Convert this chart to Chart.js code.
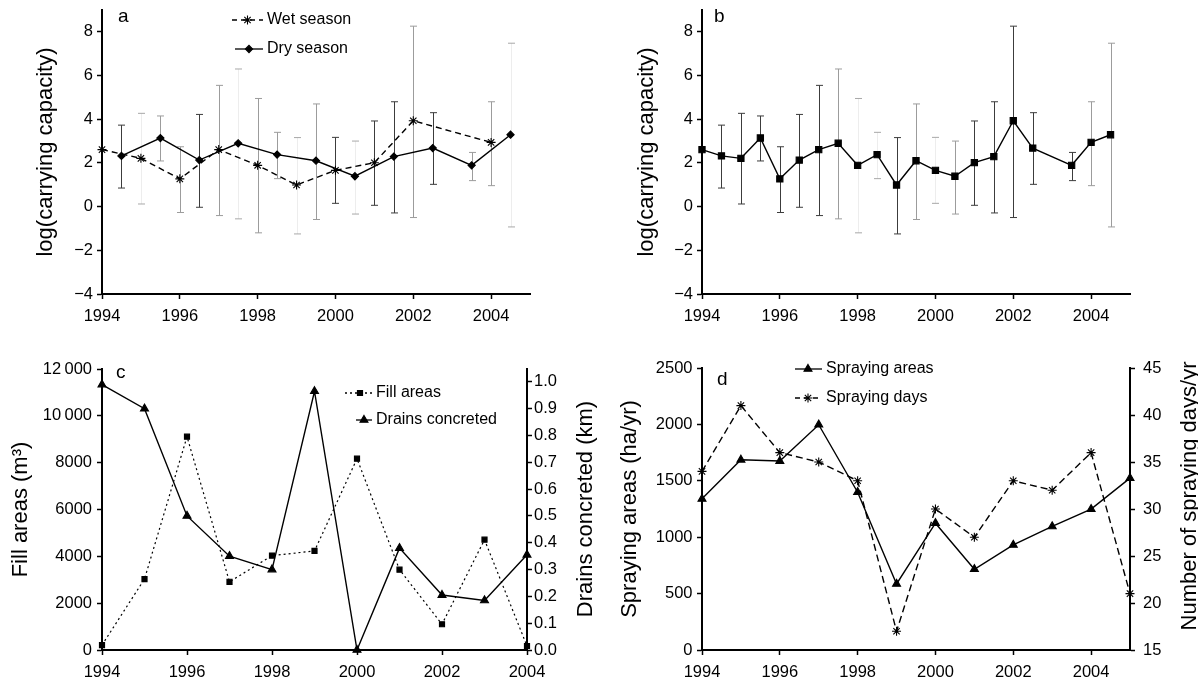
<!DOCTYPE html>
<html><head><meta charset="utf-8">
<script src="https://cdn.jsdelivr.net/npm/chart.js@4.4.0/dist/chart.umd.min.js"></script>
<style>
html,body{margin:0;padding:0;background:#fff;width:1198px;height:679px;overflow:hidden;}
canvas{position:absolute;}
</style></head><body>
<canvas id="ca" width="600" height="330" style="left:0;top:0"></canvas>
<canvas id="cb" width="598" height="330" style="left:600px;top:0"></canvas>
<canvas id="cc" width="600" height="349" style="left:0;top:330px"></canvas>
<canvas id="cd" width="598" height="349" style="left:600px;top:330px"></canvas>
<script>
// ---------- DATA ----------
// Panels a & b: log(carrying capacity)
const allYears = [1994,1994.5,1995,1995.5,1996,1996.5,1997,1997.5,1998,1998.5,1999,1999.5,2000,2000.5,2001,2001.5,2002,2002.5,2003.5,2004,2004.5];
const allK     = [2.61,2.32,2.21,3.14,1.27,2.13,2.61,2.90,1.89,2.38,0.99,2.10,1.66,1.39,2.01,2.29,3.93,2.68,1.89,2.94,3.29];
const errHigh  = [null,3.73,4.27,4.15,2.74,4.22,5.55,6.30,4.95,3.40,3.16,4.70,3.17,3.00,3.92,4.80,8.26,4.30,2.48,4.80,7.48];
const errLow   = [null,0.85,0.12,2.09,-0.27,-0.03,-0.41,-0.56,-1.20,1.28,-1.25,-0.59,0.15,-0.34,0.06,-0.29,-0.50,1.02,1.19,0.96,-0.93];
const wetYears = [1994,1995,1996,1997,1998,1999,2000,2001,2002,2004];
const wetK     = [2.61,2.21,1.27,2.61,1.89,0.99,1.66,2.01,3.93,2.94];
const dryYears = [1994.5,1995.5,1996.5,1997.5,1998.5,1999.5,2000.5,2001.5,2002.5,2003.5,2004.5];
const dryK     = [2.32,3.14,2.13,2.90,2.38,2.10,1.39,2.29,2.68,1.89,3.29];
const kTicks      = [-4,-2,0,2,4,6,8];
const kTickLabels = ['\u22124','\u22122','0','2','4','6','8'];
// Panel c
const ctrlYears = [1994,1995,1996,1997,1998,1999,2000,2001,2002,2003,2004];
const fillAreas = [210,3030,9110,2910,4030,4230,8170,3430,1100,4710,170];
const drainsKm  = [0.99,0.90,0.50,0.35,0.30,0.965,0.0,0.38,0.205,0.185,0.355];
const fillTicks      = [0,2000,4000,6000,8000,10000,12000];
const fillTickLabels = ['0','2000','4000','6000','8000','10\u2009000','12\u2009000'];
const drainTicks      = [0,0.1,0.2,0.3,0.4,0.5,0.6,0.7,0.8,0.9,1.0];
const drainTickLabels = ['0.0','0.1','0.2','0.3','0.4','0.5','0.6','0.7','0.8','0.9','1.0'];
// Panel d
const sprayYears = [1994,1995,1996,1997,1998,1999,2000,2001,2002,2003,2004,2005];
const sprayAreas = [1340,1686,1675,1997,1399,586,1124,716,932,1095,1249,1524];
const sprayDays  = [34,41,36,35,33,17,30,27,33,32,36,21];
const areaTicks      = [0,500,1000,1500,2000,2500];
const areaTickLabels = ['0','500','1000','1500','2000','2500'];
const dayTicks      = [15,20,25,30,35,40,45];
const dayTickLabels = ['15','20','25','30','35','40','45'];
// shared x ticks
const yearTicks      = [1994,1996,1998,2000,2002,2004];
const yearTickLabels = ['1994','1996','1998','2000','2002','2004'];

// ---------- STYLE ----------
const FONT = "'Liberation Sans', Arial, Helvetica, sans-serif";
const TICK_SIZE = 16.5, TITLE_SIZE = 22, LEGEND_SIZE = 16, LETTER_SIZE = 19;
// error-bar shading per point: d = dark, g = grey, c = caps only (faint line)
const shadesA = ['n','d','c','g','g','d','g','c','g','g','c','g','d','c','d','d','g','d','g','g','c'];
const shadesB = ['n','d','d','d','d','d','d','g','c','c','d','g','c','g','d','d','d','d','d','g','g'];

function pts(xs, ys){ return xs.map((x,i)=>({x:x, y:ys[i]})); }

function gridOpts(){
  return {display:true, drawOnChartArea:false, drawTicks:true, tickLength:5, tickColor:'#000', tickWidth:1.5, color:'#000'};
}
function xAxis(min,max,ticks,labels,h){
  return {type:'linear', position:'bottom', min:min, max:max,
    afterBuildTicks:s=>{ s.ticks = ticks.map(v=>({value:v})); },
    afterFit:s=>{ s.height = h; s.paddingLeft=0; s.paddingRight=0; },
    ticks:{callback:(v,i)=>labels[i], font:{family:FONT,size:TICK_SIZE}, color:'#000', padding:8, maxRotation:0, autoSkip:false},
    grid:gridOpts(), border:{display:true,color:'#000',width:2}};
}
function yAxis(pos,min,max,ticks,labels,w,pad,title,titlePad){
  const o = {type:'linear', position:pos, min:min, max:max,
    afterBuildTicks:s=>{ s.ticks = ticks.map(v=>({value:v})); },
    afterFit:s=>{ s.width = w; s.paddingTop=0; s.paddingBottom=0; },
    ticks:{callback:(v,i)=>labels[i], font:{family:FONT,size:TICK_SIZE}, color:'#000', padding:pad, autoSkip:false},
    grid:gridOpts(), border:{display:true,color:'#000',width:2}};
  if (title) o.title = {display:true, text:title, color:'#000', font:{family:FONT,size:TITLE_SIZE}, padding:{top:titlePad,bottom:0}};
  return o;
}
function ds(label,data,opts){
  return Object.assign({label:label, data:data, borderColor:'#000', backgroundColor:'#000',
    pointBackgroundColor:'#000', pointBorderColor:'#000', borderWidth:1.4, pointBorderWidth:1.1,
    fill:false, tension:0, clip:false}, opts);
}
function errPlugin(shades){
  return {id:'errbars', beforeDatasetsDraw(chart){
    const ctx = chart.ctx, xs = chart.scales.x, ys = chart.scales.y;
    ctx.save(); ctx.lineWidth = 1;
    allYears.forEach((yr,i)=>{
      if (errLow[i] == null || shades[i] === 'n') return;
      const sh = shades[i];
      const x = Math.round(xs.getPixelForValue(yr)) + 0.5;
      const y1 = ys.getPixelForValue(errLow[i]), y2 = ys.getPixelForValue(errHigh[i]);
      const lineC = sh==='d' ? '#3c3c3c' : (sh==='g' ? '#9c9c9c' : '#ededed');
      const capC  = sh==='d' ? '#3c3c3c' : (sh==='g' ? '#9c9c9c' : '#a8a8a8');
      ctx.strokeStyle = lineC; ctx.beginPath(); ctx.moveTo(x,y1); ctx.lineTo(x,y2); ctx.stroke();
      ctx.strokeStyle = capC; ctx.beginPath();
      ctx.moveTo(x-3.5,y1); ctx.lineTo(x+3.5,y1); ctx.moveTo(x-3.5,y2); ctx.lineTo(x+3.5,y2); ctx.stroke();
    });
    ctx.restore();
  }};
}
function decor(items){
  return {id:'decor', afterDraw(chart){
    const ctx = chart.ctx; ctx.save();
    items.forEach(it=>{
      ctx.fillStyle = '#000'; ctx.strokeStyle = '#000';
      if (it.kind === 'text'){
        ctx.font = it.size + 'px ' + FONT; ctx.textAlign = it.align || 'left'; ctx.textBaseline = 'middle';
        if (it.rot){ ctx.save(); ctx.translate(it.x,it.y); ctx.rotate(it.rot); ctx.fillText(it.text,0,0); ctx.restore(); }
        else ctx.fillText(it.text, it.x, it.y);
      } else {
        ctx.save(); ctx.lineWidth = 1.3; ctx.setLineDash(it.dash || []);
        ctx.beginPath(); ctx.moveTo(it.x1,it.y); ctx.lineTo(it.x2,it.y); ctx.stroke(); ctx.setLineDash([]);
        ctx.lineWidth = 1.1;
        Chart.helpers.drawPoint(ctx, {pointStyle:it.ps, radius:it.r, rotation:0, borderWidth:1.1}, it.mx, it.y);
        ctx.restore();
        ctx.font = LEGEND_SIZE + 'px ' + FONT; ctx.textAlign = 'left'; ctx.textBaseline = 'middle';
        ctx.fillText(it.text, it.tx, it.y);
      }
    });
    ctx.restore();
  }};
}
const common = {responsive:false, animation:false, devicePixelRatio:1,
  plugins:{legend:{display:false}, tooltip:{enabled:false}}};

// ---------- PANEL a ----------
new Chart(document.getElementById('ca'), {
  type:'line',
  data:{datasets:[
    ds('Wet season', pts(wetYears,wetK), {borderDash:[6,4], pointStyle:'star', pointRadius:4.5}),
    ds('Dry season', pts(dryYears,dryK), {pointStyle:'rectRot', pointRadius:3.6})
  ]},
  options:Object.assign({}, common, {
    layout:{padding:{left:0,right:70,top:10,bottom:0}},
    scales:{
      x:xAxis(1994,2005,yearTicks,yearTickLabels,36),
      y:yAxis('left',-4,9,kTicks,kTickLabels,102,4,'log(carrying capacity)',33)
    }}),
  plugins:[errPlugin(shadesA), decor([
    {kind:'text', text:'a', x:118, y:17, size:LETTER_SIZE},
    {kind:'legend', x1:232, x2:263, mx:247.5, y:20, dash:[5,4], ps:'star', r:4.5, text:'Wet season', tx:267},
    {kind:'legend', x1:235, x2:263, mx:249, y:49, ps:'rectRot', r:3.6, text:'Dry season', tx:267}
  ])]
});

// ---------- PANEL b ----------
new Chart(document.getElementById('cb'), {
  type:'line',
  data:{datasets:[
    ds('Combined', pts(allYears,allK), {pointStyle:'rect', pointRadius:4.4})
  ]},
  options:Object.assign({}, common, {
    layout:{padding:{left:0,right:68,top:10,bottom:0}},
    scales:{
      x:xAxis(1994,2005,yearTicks,yearTickLabels,36),
      y:yAxis('left',-4,9,kTicks,kTickLabels,102,4,'log(carrying capacity)',34)
    }}),
  plugins:[errPlugin(shadesB), decor([
    {kind:'text', text:'b', x:114, y:17, size:LETTER_SIZE}
  ])]
});

// ---------- PANEL c ----------
new Chart(document.getElementById('cc'), {
  type:'line',
  data:{datasets:[
    ds('Fill areas', pts(ctrlYears,fillAreas), {yAxisID:'y', borderDash:[2,3], borderWidth:1.2, pointStyle:'rect', pointRadius:3.6}),
    ds('Drains concreted', pts(ctrlYears,drainsKm), {yAxisID:'y2', pointStyle:'triangle', pointRadius:4.6})
  ]},
  options:Object.assign({}, common, {
    layout:{padding:{left:0,right:0,top:39,bottom:0}},
    scales:{
      x:xAxis(1994,2004,yearTicks,yearTickLabels,29),
      y:yAxis('left',0,12000,fillTicks,fillTickLabels,102,5,'Fill areas (m\u00B3)',8),
      y2:yAxis('right',0,1.048,drainTicks,drainTickLabels,73,2,null,0)
    }}),
  plugins:[decor([
    {kind:'text', text:'c', x:116, y:43, size:LETTER_SIZE},
    {kind:'legend', x1:345, x2:372, mx:360, y:63, dash:[2,3], ps:'rect', r:3.6, text:'Fill areas', tx:376},
    {kind:'legend', x1:356, x2:372, mx:364, y:90, ps:'triangle', r:4.6, text:'Drains concreted', tx:376},
    {kind:'text', text:'Drains concreted (km)', x:586, y:179, size:TITLE_SIZE, align:'center', rot:-Math.PI/2}
  ])]
});

// ---------- PANEL d ----------
new Chart(document.getElementById('cd'), {
  type:'line',
  data:{datasets:[
    ds('Spraying areas', pts(sprayYears,sprayAreas), {yAxisID:'y', pointStyle:'triangle', pointRadius:4.6}),
    ds('Spraying days', pts(sprayYears,sprayDays), {yAxisID:'y2', borderDash:[7,4], pointStyle:'star', pointRadius:4.5})
  ]},
  options:Object.assign({}, common, {
    layout:{padding:{left:0,right:0,top:38,bottom:0}},
    scales:{
      x:xAxis(1994,2005,yearTicks,yearTickLabels,29),
      y:yAxis('left',0,2500,areaTicks,areaTickLabels,102,4.5,'Spraying areas (ha/yr)',16.5),
      y2:yAxis('right',15,45,dayTicks,dayTickLabels,68,8,null,0)
    }}),
  plugins:[decor([
    {kind:'text', text:'d', x:117, y:50, size:LETTER_SIZE},
    {kind:'legend', x1:195, x2:222, mx:208, y:39, ps:'triangle', r:4.6, text:'Spraying areas', tx:226},
    {kind:'legend', x1:195, x2:222, mx:208, y:68, dash:[5,4], ps:'star', r:4.5, text:'Spraying days', tx:226},
    {kind:'text', text:'Number of spraying days/yr', x:590, y:166, size:TITLE_SIZE, align:'center', rot:-Math.PI/2}
  ])]
});
</script>
</body></html>
